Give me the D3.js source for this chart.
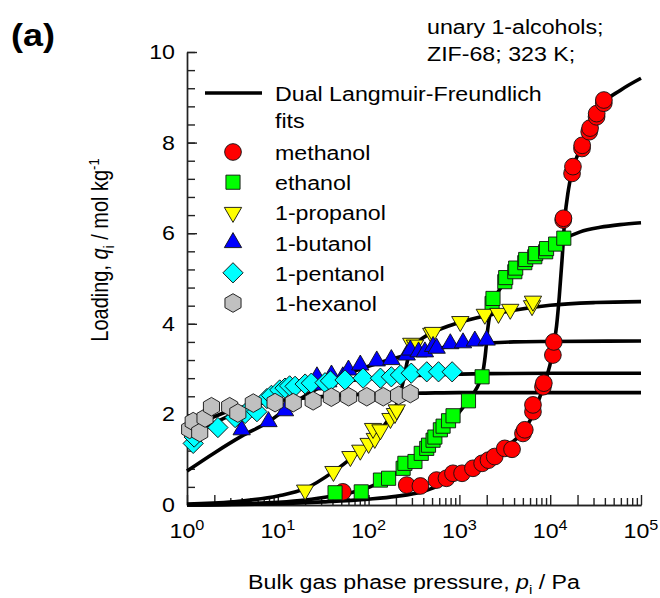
<!DOCTYPE html>
<html>
<head>
<meta charset="utf-8">
<script src="https://cdn.jsdelivr.net/npm/d3@7"></script>
<style>
  html, body { margin: 0; padding: 0; background: #fff; }
  svg { display: block; font-family: "Liberation Sans", Arial, Helvetica, sans-serif; }
</style>
</head>
<body>
<svg id="chart" width="660" height="598"></svg>
<script>
// ---- Measured isotherms: [pressure / Pa, loading / mol kg-1] ----
const methanol = [[52,0.29],[263,0.44],[372,0.42],[560,0.55],[720,0.59],[850,0.70],[1070,0.70],[1410,0.81],
  [1780,0.92],[2090,0.99],[2450,1.07],[3160,1.25],[3800,1.23],[5010,1.58],[5250,1.66],[6460,2.06],[6460,2.21],
  [8320,2.61],[8510,2.69],[10700,3.31],[10960,3.60],[13900,6.29],[14000,6.33],[17400,7.32],[17800,7.47],
  [22400,7.87],[22500,7.94],[26900,8.24],[27500,8.32],[32400,8.57],[32500,8.64],[38900,8.87],[39000,8.94]];
const ethanol = [[42.7,0.27],[83,0.29],[135,0.55],[166,0.59],[240,0.81],[251,0.92],[324,0.96],[380,1.14],
  [437,1.25],[457,1.32],[513,1.43],[537,1.50],[617,1.66],[661,1.74],[759,1.86],[851,1.97],[1259,2.30],
  [1778,2.83],[2291,4.45],[2344,4.56],[3162,4.93],[3236,5.02],[4074,5.15],[4169,5.23],[5248,5.35],[5370,5.42],
  [6761,5.48],[6918,5.55],[8913,5.59],[9120,5.66],[11482,5.76],[14125,5.89]];
const propanol = [[20,0.33],[41,0.74],[63,1.07],[81,1.21],[100,1.36],[117,1.47],[112,1.69],[135,1.66],
  [174,1.91],[195,2.02],[204,2.10],[295,3.57],[324,3.53],[490,3.79],[513,3.81],[1023,4.05],[1905,4.21],
  [2692,4.23],[3631,4.32],[6310,4.40],[6457,4.50]];
const butanol = [[4,1.66],[7.9,1.84],[12,2.08],[24.5,2.65],[27,2.83],[36,2.72],[39,2.87],[52,2.83],[60,2.98],
  [81,3.09],[123,3.18],[178,3.21],[263,3.31],[288,3.42],[355,3.38],[417,3.38],[513,3.50],[562,3.46],
  [794,3.56],[1096,3.58],[1479,3.62],[1995,3.64]];
const pentanol = [[1.17,1.36],[1.2,1.50],[2.19,1.71],[3.39,1.93],[4.37,2.02],[5.89,2.06],[7.59,2.35],[8.51,2.42],
  [10.5,2.54],[12,2.58],[13.5,2.63],[15.5,2.62],[20,2.67],[23.4,2.69],[33.1,2.70],[38,2.74],[55,2.76],[87,2.80],
  [135,2.80],[178,2.83],[224,2.87],[295,2.91],[437,2.94],[589,2.94],[832,2.94]];
const hexanol = [[1.07,1.67],[1.17,1.84],[1.38,1.60],[1.58,1.92],[1.86,2.17],[2.95,2.17],[3.63,2.03],[5.37,2.25],
  [9.33,2.26],[14.8,2.26],[24.5,2.30],[38.9,2.38],[60.3,2.39],[95.5,2.39],[145,2.39],[214,2.42],[288,2.46]];

// ---- Dual Langmuir-Freundlich fit curves: [pressure / Pa, loading / mol kg-1] ----
const fitMethanol = [[1,0],[10,0.03],[31.6,0.07],[100,0.13],[200,0.19],[398,0.3],[631,0.45],[1000,0.62],
  [1585,0.85],[2512,1.1],[3548,1.33],[5012,1.62],[6310,1.95],[7586,2.35],[8913,2.75],[10471,3.3],[11749,3.95],
  [12589,4.6],[13490,5.4],[14454,6.3],[15849,6.95],[17378,7.35],[22387,7.95],[28184,8.38],[38019,8.85],
  [58884,9.15],[100000,9.42]];
const fitEthanol = [[1,0],[3.16,0.02],[10,0.06],[20,0.11],[40,0.2],[79.4,0.32],[126,0.47],[200,0.7],[316,0.98],
  [501,1.35],[794,1.8],[1122,2.18],[1413,2.45],[1660,2.7],[1820,2.95],[1950,3.4],[2042,3.85],[2188,4.25],
  [2399,4.52],[2818,4.78],[3548,5.02],[5012,5.3],[7079,5.5],[10000,5.68],[14125,5.87],[21380,6.03],
  [35481,6.13],[58884,6.19],[100000,6.23]];
const fitPropanol = [[1,0.02],[3.16,0.07],[10,0.2],[20,0.36],[40,0.72],[63,1.02],[100,1.36],[141,1.7],[186,2.05],
  [219,2.4],[245,2.8],[269,3.2],[302,3.48],[355,3.62],[501,3.8],[708,3.93],[1000,4.03],[1995,4.18],[3981,4.3],
  [10000,4.41],[31623,4.47],[100000,4.49]];
const fitButanol = [[1,0.75],[2,1.15],[4,1.52],[7.94,1.84],[15.8,2.28],[31.6,2.64],[63,2.92],[126,3.13],
  [251,3.3],[501,3.44],[1000,3.52],[1995,3.57],[3981,3.6],[10000,3.61],[100000,3.62]];
const fitPentanol = [[1,1.35],[1.86,1.77],[3.16,2.0],[6.3,2.25],[12.6,2.47],[25.1,2.62],[50,2.72],[100,2.79],
  [251,2.85],[631,2.88],[1995,2.9],[10000,2.91],[100000,2.91]];
const fitHexanol = [[1,1.6],[1.58,1.85],[2.51,2.03],[5,2.2],[10,2.3],[25.1,2.38],[63,2.43],[158,2.46],
  [398,2.47],[1000,2.48],[100000,2.48]];

// ---- Legend entries and tick labels ----
const seriesNames = ["methanol", "ethanol", "1-propanol", "1-butanol", "1-pentanol", "1-hexanol"];
const seriesColors = ["#ff0000", "#00ff00", "#ffff00", "#0000ff", "#00ffff", "#c0c0c0"];
const xTickExponents = [0, 1, 2, 3, 4, 5];
const yTickLabels = [0, 2, 4, 6, 8, 10];

// ---- Layout ----
const svg = d3.select("#chart");
const SX = 1.16;          // horizontal stretch of the lettering
const FS = 20;            // base font size
const x = d3.scaleLog().domain([1, 1e5]).range([187, 641]);
const y = d3.scaleLinear().domain([0, 10]).range([505, 52]);

// custom hexagon marker (pointy top)
const symbolHexagon = {
  draw(ctx, size) {
    const r = Math.sqrt(size / (1.5 * Math.sqrt(3)));
    for (let i = 0; i < 6; i++) {
      const a = (-90 + 60 * i) * Math.PI / 180;
      const px = r * Math.cos(a), py = r * Math.sin(a);
      if (i === 0) ctx.moveTo(px, py); else ctx.lineTo(px, py);
    }
    ctx.closePath();
  }
};

const markerDefs = [
  { type: d3.symbolCircle, size: 220, rot: 0 },
  { type: d3.symbolSquare, size: 200, rot: 0 },
  { type: d3.symbolTriangle, size: 130, rot: 180 },
  { type: d3.symbolTriangle, size: 130, rot: 0 },
  { type: d3.symbolSquare, size: 205, rot: 45 },
  { type: symbolHexagon, size: 225, rot: 0 }
];
const seriesData = [methanol, ethanol, propanol, butanol, pentanol, hexanol];
const fitData = [fitMethanol, fitEthanol, fitPropanol, fitButanol, fitPentanol, fitHexanol];

function text(g, px, py, anchor, size, weight) {
  return g.append("text")
    .attr("transform", `translate(${px},${py}) scale(${SX},1)`)
    .attr("text-anchor", anchor)
    .attr("font-size", size)
    .attr("font-weight", weight || "normal")
    .attr("fill", "#000");
}

// ---- Axes ----
const axisColor = "#222";
const decades = [1, 10, 100, 1000, 10000];
const xMajor = decades.flatMap(d => [d, 2 * d]).concat([1e5]);
const xMinor = decades.flatMap(d => [3, 4, 5, 6, 7, 8, 9].map(m => m * d));
const yMinor = d3.range(0, 51).filter(i => i % 2 === 0).map(i => i * 0.2);

function styleAxis(g) {
  g.selectAll("path, line").attr("stroke", axisColor).attr("stroke-width", 1.4);
  g.selectAll("text").remove();
}
svg.append("g").attr("transform", `translate(0,${y(0)})`)
  .call(d3.axisBottom(x).tickValues(xMinor).tickSize(-7).tickSizeOuter(0).tickFormat(""))
  .call(styleAxis);
svg.append("g").attr("transform", `translate(0,${y(0)})`)
  .call(d3.axisBottom(x).tickValues(xMajor).tickSize(-10).tickSizeOuter(0).tickFormat(""))
  .call(styleAxis);
svg.append("g").attr("transform", `translate(${x(1)},0)`)
  .call(d3.axisLeft(y).tickValues(yMinor).tickSize(-8).tickSizeOuter(0).tickFormat(""))
  .call(styleAxis);
svg.append("g").attr("transform", `translate(${x(1)},0)`)
  .call(d3.axisLeft(y).tickValues(yTickLabels).tickSize(-10).tickSizeOuter(0).tickFormat(""))
  .call(styleAxis);

// tick labels
yTickLabels.forEach(v => {
  text(svg, 175, y(v) + 7, "end", FS).text(v);
});
xTickExponents.forEach(e => {
  const t = text(svg, x(Math.pow(10, e)), 538, "middle", FS).text("10");
  t.append("tspan").attr("font-size", 14).attr("dy", -8).text(e);
});

// axis titles
const xt = text(svg, 414, 589, "middle", FS).text("Bulk gas phase pressure, ");
xt.append("tspan").attr("font-style", "italic").text("p");
xt.append("tspan").attr("font-size", 13).attr("dy", 5).text("i");
xt.append("tspan").attr("dy", -5).text(" / Pa");

const yt = svg.append("text")
  .attr("transform", `translate(108,250) scale(${SX},1) rotate(-90)`)
  .attr("text-anchor", "middle").attr("font-size", FS).attr("fill", "#000")
  .text("Loading, ");
yt.append("tspan").attr("font-style", "italic").text("q");
yt.append("tspan").attr("font-size", 13).attr("dy", 5).text("i");
yt.append("tspan").attr("dy", -5).text(" / mol kg");
yt.append("tspan").attr("font-size", 13).attr("dy", -8).text("-1");

// panel label and annotation
text(svg, 11, 46, "start", 31, "bold").text("(a)");
text(svg, 427, 34, "start", FS).text("unary 1-alcohols;");
text(svg, 427, 61, "start", FS).text("ZIF-68; 323 K;");

// ---- Fit curves ----
const line = d3.line().x(d => x(d[0])).y(d => y(d[1])).curve(d3.curveMonotoneX);
svg.append("g").selectAll("path").data(fitData).join("path")
  .attr("d", line).attr("fill", "none").attr("stroke", "#000")
  .attr("stroke-width", 3.6).attr("stroke-linejoin", "round");

// ---- Data markers ----
function markerPath(i) {
  return d3.symbol().type(markerDefs[i].type).size(markerDefs[i].size)();
}
seriesData.forEach((data, i) => {
  svg.append("g").selectAll("path").data(data).join("path")
    .attr("d", markerPath(i))
    .attr("transform", d => `translate(${x(d[0])},${y(d[1])}) rotate(${markerDefs[i].rot})`)
    .attr("fill", seriesColors[i]).attr("stroke", "#111").attr("stroke-width", 0.9);
});

// ---- Legend ----
const lg = svg.append("g");
lg.append("line").attr("x1", 205).attr("x2", 262).attr("y1", 93).attr("y2", 93)
  .attr("stroke", "#000").attr("stroke-width", 3.6);
text(lg, 275, 101, "start", FS).text("Dual Langmuir-Freundlich");
text(lg, 275, 128, "start", FS).text("fits");
seriesNames.forEach((name, i) => {
  const base = 160 + i * 30.2;
  lg.append("path").attr("d", markerPath(i))
    .attr("transform", `translate(233,${base - 8}) rotate(${markerDefs[i].rot})`)
    .attr("fill", seriesColors[i]).attr("stroke", "#111").attr("stroke-width", 0.9);
  text(lg, 275, base, "start", FS).text(name);
});
</script>
</body>
</html>
